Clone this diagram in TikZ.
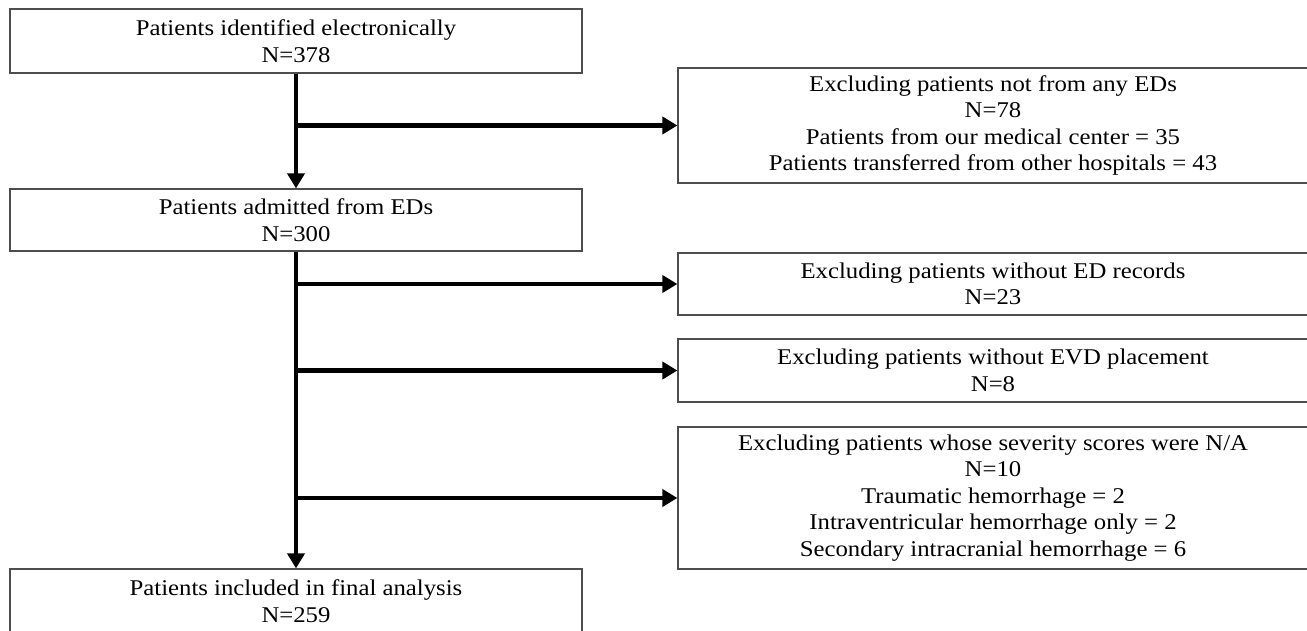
\documentclass[tikz,border=0pt]{standalone}
\usepackage{fontspec}
\setmainfont{Liberation Serif}[FakeStretch=1.1]
\usetikzlibrary{arrows.meta}
\definecolor{boxline}{HTML}{4D4D4D}
\tikzset{
  box/.style={draw=boxline, line width=1.2pt, rectangle, inner sep=0pt, align=center,
    font=\fontsize{22.5pt}{26.5pt}\selectfont},
  lbox/.style={box, minimum width=572pt},
  rbox/.style={box, minimum width=630pt},
  arr/.style={line width=4.6pt, black, -{Triangle[length=15pt,width=17pt]}},
}
\begin{document}
\begin{tikzpicture}[x=1pt,y=-1pt]
\useasboundingbox (0,0) rectangle (1307,631);
\clip (0,0) rectangle (1307,631);
\fill[white] (0,0) rectangle (1307,631);
\node[lbox, minimum height=64pt] (b1) at (296,41) {Patients identified electronically\\N=378};
\node[lbox, minimum height=62pt] (b2) at (296,220) {Patients admitted from EDs\\N=300};
\node[lbox, minimum height=64pt] (b6) at (296,601) {Patients included in final analysis\\N=259};
\node[rbox, minimum height=115pt] (r1) at (993,125.5) {Excluding patients not from any EDs\\N=78\\Patients from our medical center = 35\\Patients transferred from other hospitals = 43};
\node[rbox, minimum height=62pt] (r2) at (993,284) {Excluding patients without ED records\\N=23};
\node[rbox, minimum height=63pt] (r3) at (993,370.5) {Excluding patients without EVD placement\\N=8};
\node[rbox, minimum height=142pt] (r4) at (993,498) {Excluding patients whose severity scores were N/A\\N=10\\Traumatic hemorrhage = 2\\Intraventricular hemorrhage only = 2\\Secondary intracranial hemorrhage = 6};
\draw[arr] (b1.south) -- (b2.north);
\draw[arr] (b2.south) -- (b6.north);
\draw[arr] (b1.south |- r1.west) -- (r1.west);
\draw[arr] (b2.south |- r2.west) -- (r2.west);
\draw[arr] (b2.south |- r3.west) -- (r3.west);
\draw[arr] (b2.south |- r4.west) -- (r4.west);
\end{tikzpicture}
\end{document}
